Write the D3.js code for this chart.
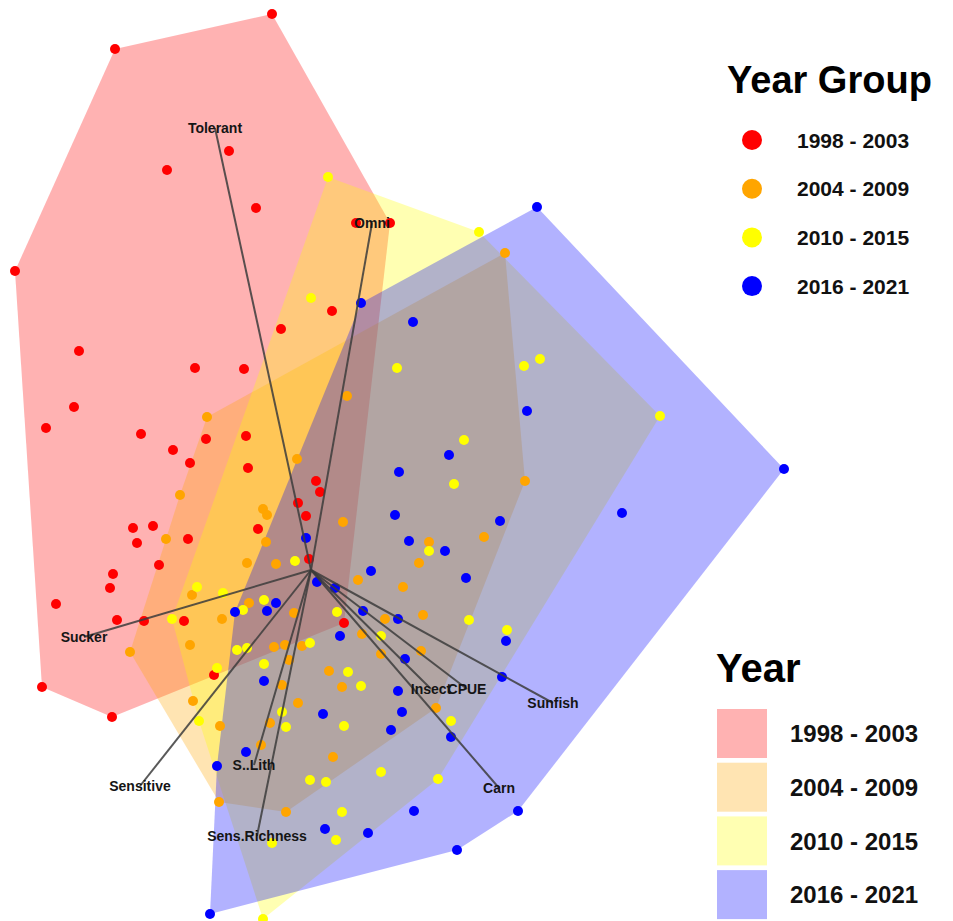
<!DOCTYPE html>
<html>
<head>
<meta charset="utf-8">
<script src="https://cdn.jsdelivr.net/npm/d3@7"></script>
<style>
  html, body { margin: 0; padding: 0; background: #ffffff; }
  svg { display: block; font-family: "Liberation Sans", Arial, Helvetica, sans-serif; }
</style>
</head>
<body>
<svg id="chart" width="953" height="921"></svg>
<script>
// ---------------- DATA ----------------
const yearGroups = ["1998 - 2003", "2004 - 2009", "2010 - 2015", "2016 - 2021"];
const groupColors = ["#ff0000", "#ffa500", "#ffff00", "#0000ff"];

// site scores [NMDS1, NMDS2] per year group
const sites9803 = [
  [-1.96, 5.21], [-0.39, 5.56], [-0.82, 4.19], [-1.44, 4.00], [-0.55, 3.62], [-2.96, 2.99],
  [0.45, 3.47], [0.79, 3.47], [0.21, 2.59], [-0.30, 2.41], [-2.32, 2.19], [-1.16, 2.02],
  [-0.67, 2.01], [-2.37, 1.63], [-2.65, 1.42], [-1.70, 1.36], [-1.05, 1.31], [-0.65, 1.34],
  [-1.38, 1.20], [-1.21, 1.07], [-0.63, 1.02], [-1.78, 0.42], [-1.58, 0.44], [-1.74, 0.27],
  [-1.23, 0.31], [-1.52, 0.05], [-1.98, -0.04], [-2.01, -0.18], [-2.55, -0.34], [-0.53, 0.41],
  [-1.94, -0.50], [-1.67, -0.51], [-1.27, -0.51], [-2.69, -1.17], [-1.99, -1.47], [-0.97, -1.05],
  [0.05, 0.89], [0.09, 0.78], [-0.13, 0.67], [-0.05, 0.54], [-0.02, 0.11], [0.33, -0.53]
];
const sites0409 = [
  [1.94, 3.17], [-1.04, 1.53], [-1.31, 0.75], [-1.45, 0.31], [-0.48, 0.61], [-0.44, 0.55],
  [-0.45, 0.28], [-0.64, 0.07], [-1.19, -0.25], [-0.62, -0.33], [-0.89, -0.49], [0.36, 1.74],
  [-0.14, 1.11], [0.32, 0.48], [-0.35, 0.06], [1.18, 0.28], [2.14, 0.89], [1.73, 0.33],
  [1.08, 0.07], [0.47, -0.10], [0.92, -0.17], [1.12, -0.45], [0.74, -0.49], [-0.17, -0.43],
  [-1.21, -0.75], [-0.37, -0.77], [-0.26, -0.75], [-0.09, -0.76], [-0.22, -0.90], [-0.29, -1.15],
  [-0.13, -1.33], [0.18, -1.01], [0.31, -1.17], [-1.18, -1.31], [-0.91, -1.56], [-0.41, -1.53],
  [-0.50, -1.75], [0.22, -1.87], [0.51, -0.64], [0.70, -0.84], [1.10, -0.81], [1.25, -1.38],
  [-0.25, -2.42], [-1.81, -0.82], [-0.92, -2.32]
];
const sites1015 = [
  [0.17, 3.93], [1.68, 3.38], [3.49, 1.54], [0.00, 2.72], [0.86, 2.02], [2.13, 2.04],
  [2.29, 2.11], [1.53, 1.30], [1.43, 0.86], [1.18, 0.19], [-0.16, 0.09], [-1.14, -0.17],
  [-0.88, -0.23], [-0.47, -0.30], [-0.68, -0.40], [-1.39, -0.49], [-0.74, -0.80], [-0.64, -0.78],
  [-0.01, -0.73], [0.26, -0.42], [-0.94, -0.98], [-0.47, -0.94], [-0.29, -1.42], [-0.25, -1.57],
  [0.33, -1.56], [0.37, -1.02], [-1.12, -1.51], [1.58, -0.50], [1.96, -0.60], [0.70, -0.66],
  [0.50, -1.16], [1.40, -1.51], [0.70, -2.02], [-0.01, -2.10], [0.15, -2.12], [1.27, -2.09],
  [0.31, -2.42], [0.25, -2.70], [-0.39, -2.73], [-0.48, -3.49]
];
const sites1621 = [
  [2.26, 3.63], [0.50, 2.67], [1.02, 2.48], [2.16, 1.59], [1.38, 1.15], [0.88, 0.98],
  [0.84, 0.55], [0.98, 0.29], [1.34, 0.19], [1.55, -0.08], [1.89, 0.49], [-0.05, 0.32],
  [0.60, -0.01], [0.06, -0.12], [0.24, -0.18], [0.52, -0.41], [-0.35, -0.33], [4.73, 1.01],
  [3.11, 0.57], [-0.76, -0.42], [-0.44, -0.41], [0.29, -0.66], [-0.47, -1.11], [0.12, -1.44],
  [-0.65, -1.82], [0.87, -0.49], [0.94, -0.89], [1.95, -0.71], [1.91, -1.07], [0.87, -1.21],
  [0.91, -1.42], [0.80, -1.60], [1.40, -1.67], [1.03, -2.41], [2.07, -2.41], [0.14, -2.59],
  [0.57, -2.63], [1.46, -2.80], [-0.94, -1.96], [-1.01, -3.44]
];

// environmental / metric vectors (fitted arrows)
const vectorNames = ["Tolerant", "Omni", "Sucker", "Sensitive", "S..Lith", "Sens.Richness", "Insect", "CPUE", "Sunfish", "Carn"];
const vectorNMDS1 = [-0.96, 0.61, -2.27, -1.71, -0.57, -0.54, 1.20, 1.56, 2.42, 1.88];
const vectorNMDS2 = [4.42, 3.47, -0.67, -2.16, -1.95, -2.66, -1.19, -1.19, -1.33, -2.18];

// ---------------- CHART ----------------
const W = 953, H = 921;
const svg = d3.select("#chart");
svg.append("rect").attr("width", W).attr("height", H).attr("fill", "#ffffff");

const x = d3.scaleLinear().domain([-3.11, 6.42]).range([0, W]);
const y = d3.scaleLinear().domain([5.70, -3.51]).range([0, H]);

const allSites = [sites9803, sites0409, sites1015, sites1621];

// hulls
const hullG = svg.append("g");
allSites.forEach((s, i) => {
  const px = s.map(d => [x(d[0]), y(d[1])]);
  const hull = d3.polygonHull(px);
  hullG.append("path")
    .attr("d", "M" + hull.map(p => p.join(",")).join("L") + "Z")
    .attr("fill", groupColors[i])
    .attr("fill-opacity", 0.3)
    .attr("stroke", "none");
});

// points
const ptG = svg.append("g");
allSites.forEach((s, i) => {
  ptG.selectAll(null).data(s).enter().append("circle")
    .attr("cx", d => x(d[0]))
    .attr("cy", d => y(d[1]))
    .attr("r", 5)
    .attr("fill", groupColors[i]);
});

// vectors
const vecG = svg.append("g");
vectorNames.forEach((n, i) => {
  vecG.append("line")
    .attr("x1", x(0)).attr("y1", y(0))
    .attr("x2", x(vectorNMDS1[i])).attr("y2", y(vectorNMDS2[i]))
    .attr("stroke", "#3c3c3c")
    .attr("stroke-width", 2)
    .attr("stroke-opacity", 0.85);
});
vectorNames.forEach((n, i) => {
  vecG.append("text")
    .attr("x", x(vectorNMDS1[i]))
    .attr("y", y(vectorNMDS2[i]))
    .attr("dy", "0.35em")
    .attr("text-anchor", "middle")
    .attr("font-size", 14)
    .attr("font-weight", "bold")
    .attr("fill", "#151515")
    .text(n);
});

// legend 1: Year Group (points)
const leg1 = svg.append("g");
leg1.append("text")
  .attr("x", 727).attr("y", 93)
  .attr("font-size", 38).attr("font-weight", "bold").attr("fill", "#000")
  .text("Year Group");
yearGroups.forEach((g, i) => {
  const cy = 140 + i * 48.7;
  leg1.append("circle").attr("cx", 752).attr("cy", cy).attr("r", 10).attr("fill", groupColors[i]);
  leg1.append("text").attr("x", 797).attr("y", cy).attr("dy", "0.36em")
    .attr("font-size", 21).attr("font-weight", "bold").attr("fill", "#111")
    .text(g);
});

// legend 2: Year (hull fills)
const leg2 = svg.append("g");
leg2.append("text")
  .attr("x", 716).attr("y", 682)
  .attr("font-size", 40).attr("font-weight", "bold").attr("fill", "#000")
  .text("Year");
yearGroups.forEach((g, i) => {
  const top = 709 + i * 53.7;
  leg2.append("rect").attr("x", 717).attr("y", top).attr("width", 50).attr("height", 49)
    .attr("fill", groupColors[i]).attr("fill-opacity", 0.3);
  leg2.append("text").attr("x", 790).attr("y", top + 24.5).attr("dy", "0.36em")
    .attr("font-size", 24).attr("font-weight", "bold").attr("fill", "#111")
    .text(g);
});
</script>
</body>
</html>
